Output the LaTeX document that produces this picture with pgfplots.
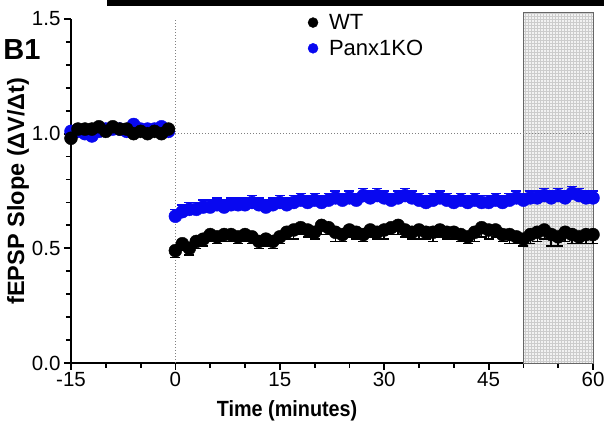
\documentclass[border=0pt]{standalone}
\usepackage{fontspec}
\setmainfont{Liberation Sans}
\usepackage{pgfplots}
\usepackage{pgfplotstable}
\pgfplotsset{compat=1.18}
\usetikzlibrary{calc,patterns}

\definecolor{kored}{RGB}{8,8,240}

% WT: time, slope, sem (lower bar only)
\pgfplotstableread{
t y e
-15 0.98 0.01
-14 1.02 0.01
-13 1.02 0.01
-12 1.02 0.01
-11 1.03 0.01
-10 1.01 0.01
-9 1.03 0.01
-8 1.02 0.01
-7 1.02 0.01
-6 1.00 0.01
-5 1.01 0.01
-4 1.00 0.01
-3 1.01 0.01
-2 1.00 0.01
-1 1.02 0.01
0 0.49 0.03
1 0.52 0.03
2 0.50 0.03
3 0.53 0.03
4 0.54 0.03
5 0.56 0.03
6 0.55 0.03
7 0.56 0.03
8 0.56 0.03
9 0.55 0.03
10 0.56 0.03
11 0.55 0.03
12 0.53 0.03
13 0.54 0.03
14 0.53 0.03
15 0.55 0.03
16 0.57 0.03
17 0.58 0.04
18 0.59 0.03
19 0.58 0.03
20 0.57 0.03
21 0.60 0.04
22 0.59 0.03
23 0.57 0.04
24 0.56 0.03
25 0.58 0.03
26 0.57 0.03
27 0.56 0.03
28 0.58 0.03
29 0.57 0.03
30 0.58 0.04
31 0.59 0.03
32 0.60 0.04
33 0.58 0.03
34 0.57 0.03
35 0.58 0.04
36 0.57 0.03
37 0.57 0.04
38 0.58 0.03
39 0.57 0.03
40 0.57 0.03
41 0.56 0.03
42 0.55 0.03
43 0.57 0.04
44 0.59 0.04
45 0.58 0.04
46 0.58 0.03
47 0.56 0.03
48 0.56 0.04
49 0.55 0.03
50 0.54 0.03
51 0.56 0.04
52 0.57 0.04
53 0.58 0.04
54 0.56 0.05
55 0.55 0.04
56 0.57 0.04
57 0.56 0.04
58 0.55 0.03
59 0.56 0.04
60 0.56 0.04
}\wt

% Panx1KO: time, slope, sem (upper bar only)
\pgfplotstableread{
t y e
-15 1.01 0.01
-14 1.01 0.01
-13 1.00 0.01
-12 0.99 0.01
-11 1.01 0.01
-10 1.02 0.01
-9 1.02 0.01
-8 1.02 0.01
-7 1.01 0.01
-6 1.04 0.01
-5 1.02 0.01
-4 1.02 0.01
-3 1.02 0.01
-2 1.03 0.01
-1 1.01 0.01
0 0.64 0.03
1 0.66 0.03
2 0.67 0.03
3 0.67 0.03
4 0.68 0.03
5 0.68 0.03
6 0.69 0.03
7 0.68 0.03
8 0.69 0.03
9 0.69 0.03
10 0.69 0.03
11 0.70 0.03
12 0.69 0.03
13 0.68 0.03
14 0.69 0.03
15 0.70 0.03
16 0.69 0.03
17 0.70 0.03
18 0.71 0.03
19 0.70 0.03
20 0.71 0.03
21 0.70 0.03
22 0.71 0.03
23 0.72 0.03
24 0.71 0.03
25 0.72 0.03
26 0.71 0.03
27 0.73 0.03
28 0.72 0.03
29 0.73 0.03
30 0.72 0.03
31 0.71 0.03
32 0.72 0.03
33 0.73 0.03
34 0.72 0.03
35 0.71 0.03
36 0.70 0.03
37 0.71 0.03
38 0.72 0.03
39 0.71 0.03
40 0.70 0.03
41 0.71 0.03
42 0.70 0.03
43 0.71 0.03
44 0.70 0.03
45 0.70 0.03
46 0.71 0.03
47 0.70 0.03
48 0.71 0.03
49 0.72 0.03
50 0.71 0.03
51 0.72 0.03
52 0.72 0.03
53 0.73 0.03
54 0.72 0.03
55 0.73 0.03
56 0.72 0.03
57 0.74 0.03
58 0.73 0.03
59 0.72 0.03
60 0.72 0.03
}\ko

\begin{document}
\begin{tikzpicture}
\begin{axis}[
    scale only axis,
    width=522pt, height=344pt,
    xmin=-15, xmax=60,
    ymin=0, ymax=1.5,
    axis lines=left,
    axis line style={line width=2.2pt, -},
    clip=false,
    xtick={-15,0,15,30,45,60},
    ytick={0,0.5,1.0,1.5},
    minor x tick num=2,
    minor y tick num=4,
    tick align=outside,
    major tick length=7pt,
    minor tick length=5pt,
    every tick/.style={line width=1.8pt, black},
    /pgf/number format/assume math mode=true,
    yticklabel style={/pgf/number format/.cd, fixed, fixed zerofill, precision=1},
    ticklabel style={font=\fontsize{20.5}{22}\selectfont},
    xticklabel style={yshift=1pt},
    every axis x label/.style={at={(axis description cs:0.414,0)}, yshift=-48pt, anchor=center},
    every axis y label/.style={at={(axis description cs:0,0.5)}, xshift=-53pt, rotate=90, anchor=center},
    xlabel={\scalebox{0.9}[1]{\fontsize{22}{24}\selectfont\bfseries Time (minutes)}},
    ylabel={\fontsize{23.5}{25}\selectfont\bfseries fEPSP Slope (ΔV/Δt)},
    legend style={at={(0.448,1.026)}, anchor=north west, draw=none, fill=none,
        font=\fontsize{22}{24}\selectfont, row sep=5pt,
        nodes={inner xsep=4pt}},
    legend cell align=left,
]
% analysis window
\addplot[forget plot, draw=gray!80!black, line width=0.8pt, fill=gray!10,
    postaction={pattern=grid, pattern color=gray!40}]
    coordinates {(50,0) (50,1.53) (60,1.53) (60,0)} -- cycle;
% guide lines
\addplot[forget plot, gray, dotted, line width=1pt] coordinates {(0,0) (0,1.5)};
\addplot[forget plot, gray, dotted, line width=1pt] coordinates {(0,1.0) (60,1.0)};

\addlegendimage{only marks, mark=*, mark size=5pt, black}
\addlegendentry{\hspace{7pt}WT}
\addlegendimage{only marks, mark=*, mark size=5pt, kored}
\addlegendentry{\hspace{7pt}Panx1KO}

\addplot[forget plot, only marks, mark=*, mark size=6.5pt, kored,
    error bars/.cd, y dir=plus, y explicit,
    error bar style={line width=1.5pt, kored},
    error mark options={rotate=90, mark size=5pt, line width=1.5pt, kored}]
    table[x=t, y=y, y error=e] {\ko};
\addplot[forget plot, only marks, mark=*, mark size=6.5pt, black,
    error bars/.cd, y dir=minus, y explicit,
    error bar style={line width=1.5pt, black},
    error mark options={rotate=90, mark size=5pt, line width=1.5pt, black}]
    table[x=t, y=y, y error=e] {\wt};

\coordinate (ll) at (rel axis cs:0,0);
\end{axis}
\pgfresetboundingbox
\path ($(ll)+(-71pt,-64pt)$) rectangle ($(ll)+(533pt,363pt)$);
\fill[black] ($(ll)+(36pt,357pt)$) rectangle ($(ll)+(533pt,363pt)$);
\node[font=\fontsize{29}{31}\selectfont\bfseries, anchor=center] at ($(ll)+(-49pt,313pt)$) {B1};
\end{tikzpicture}
\end{document}
